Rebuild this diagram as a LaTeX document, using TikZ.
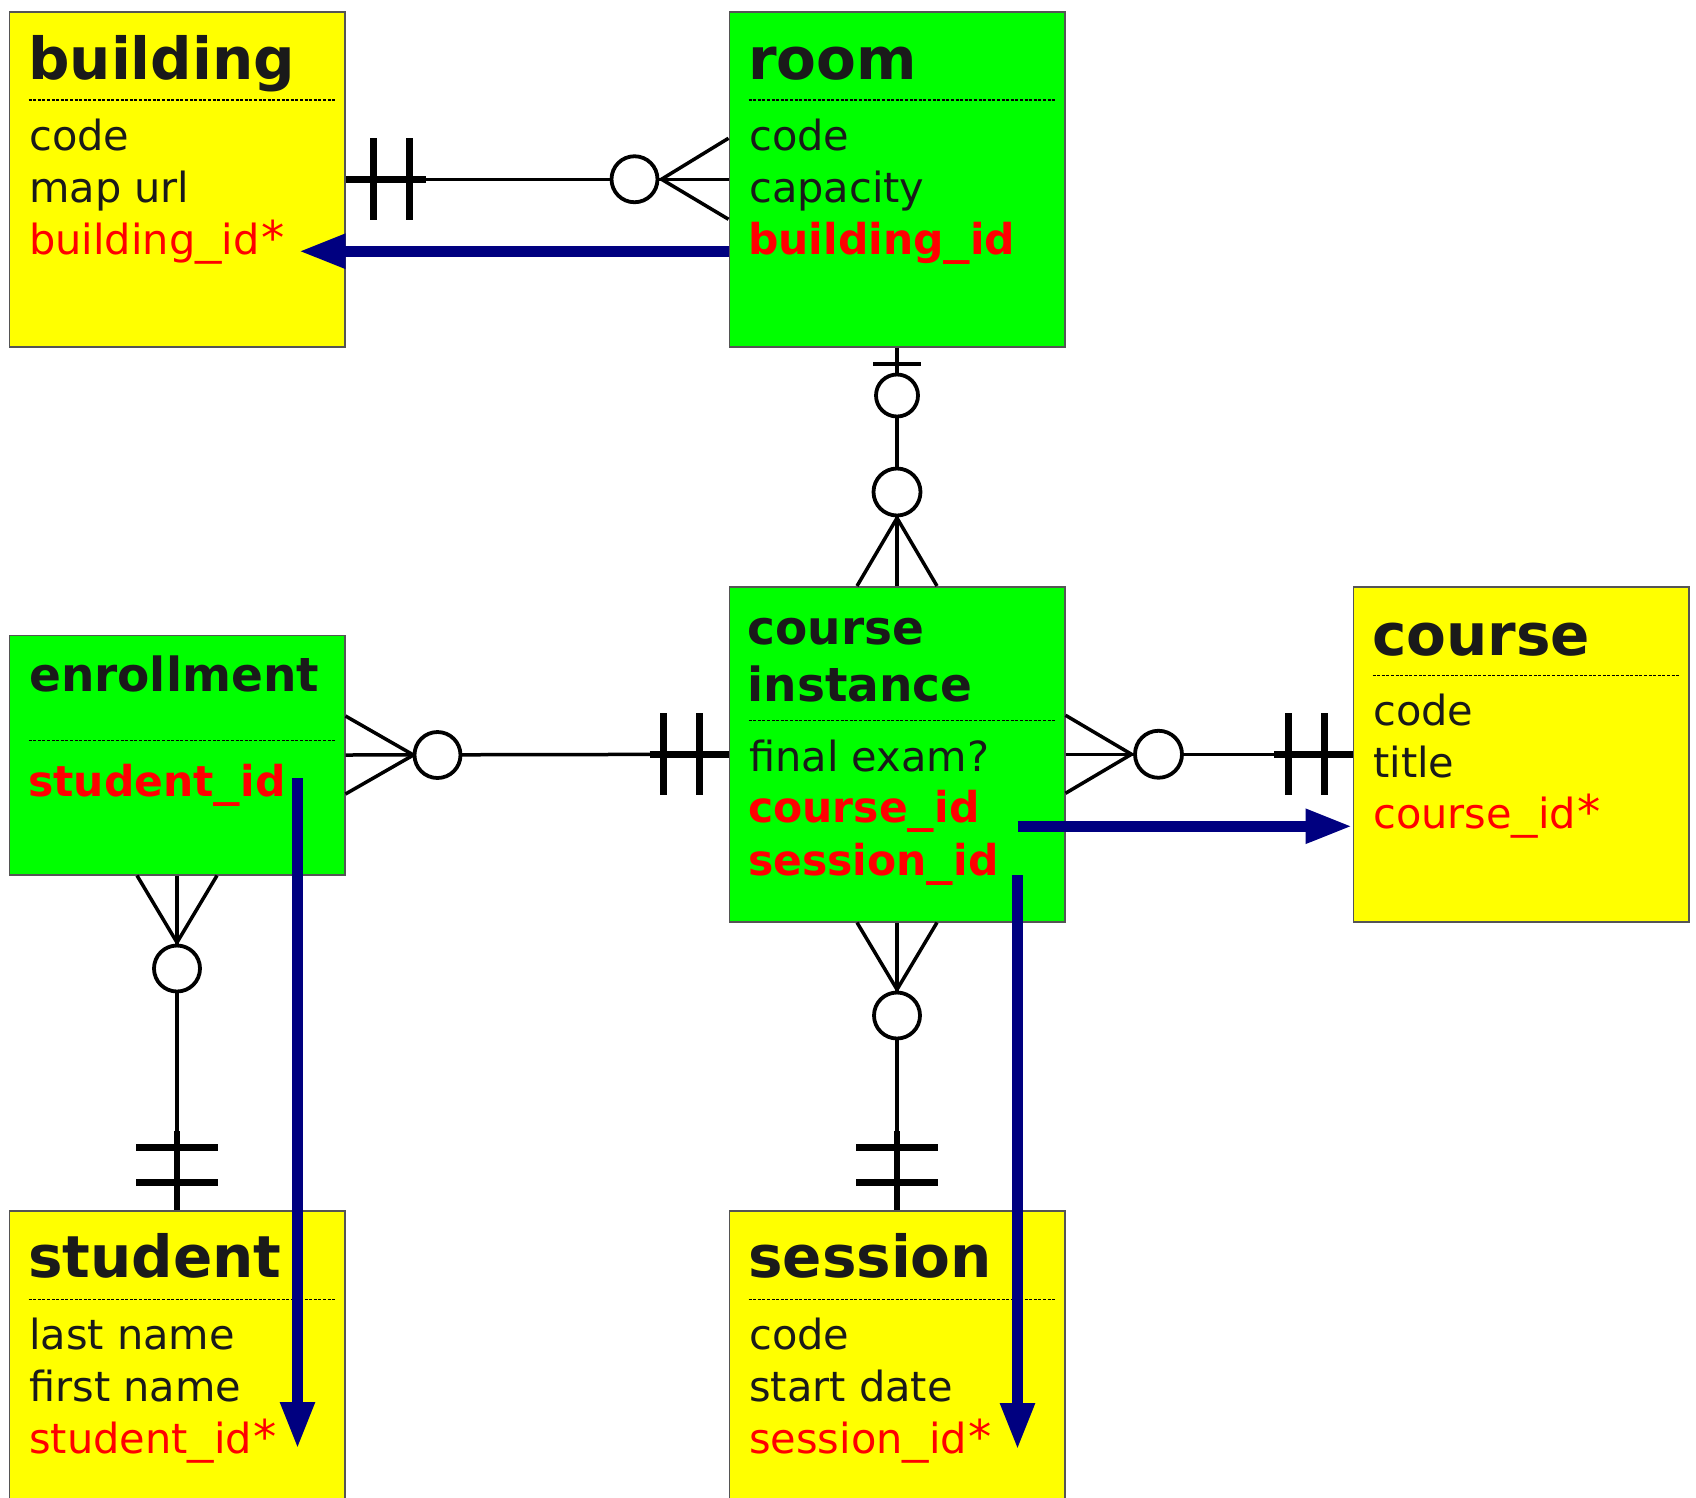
\documentclass[tikz,border=0pt]{standalone}
\usepackage{fontspec}
\usepackage{graphicx}
\setmainfont{DejaVu Sans}
\usetikzlibrary{arrows.meta,calc}
\definecolor{ybox}{HTML}{FFFF00}
\definecolor{gbox}{HTML}{00FF00}
\definecolor{navyc}{HTML}{000080}
\definecolor{redc}{HTML}{FF0000}
\definecolor{inkc}{HTML}{1A1A1A}
\definecolor{edgec}{HTML}{555555}
\newcommand{\usr}{\scalebox{1.27}[1]{\_}}
\newcommand{\usb}{\scalebox{1.25}[1]{\_}}
\newcommand{\astr}{\hspace{0.04em}\scalebox{1.12}{*}}
\tikzset{
  ent/.style={rectangle, draw=edgec, line width=1.5pt, inner sep=0pt,
    minimum width=335.5pt, minimum height=335pt, anchor=north west},
  ttl/.style={font=\fontsize{58}{60}\selectfont\bfseries, text=inkc, anchor=base west, inner sep=0pt},
  ttlsm/.style={font=\fontsize{47}{50}\selectfont\bfseries, text=inkc, anchor=base west, inner sep=0pt},
  attr/.style={font=\fontsize{41.5}{44}\selectfont, text=inkc, anchor=base west, inner sep=0pt},
  fkattr/.style={font=\fontsize{41.5}{44}\selectfont, text=redc, anchor=base west, inner sep=0pt},
  pkattr/.style={font=\fontsize{42.5}{44}\selectfont\bfseries, text=redc, anchor=base west, inner sep=0pt},
  sepline/.style={draw=black, line width=1.3pt, dash pattern=on 3pt off 1.6pt},
  rel/.style={draw=black, line width=3.5pt},
  relthick/.style={draw=black, line width=6.5pt},
  barmark/.style={draw=black, line width=7pt},
  thinbar/.style={draw=black, line width=4pt},
  circmark/.style={draw=black, fill=white, line width=3.8pt},
  fk/.style={draw=navyc, line width=11pt, -{Triangle[length=47pt,width=32pt]}},
}
\begin{document}
\begin{tikzpicture}[x=1pt,y=-1pt]
\useasboundingbox (0,0) rectangle (1696,1497);
\clip (0,0) rectangle (1696,1497);
\fill[white] (0,0) rectangle (1696,1497);

% ---------- entities ----------
\node[ent, fill=ybox] (building) at (8.5,11) {};
\node[ent, fill=gbox] (room) at (728.5,11) {};
\node[ent, fill=gbox] (ci) at (728.5,586) {};
\node[ent, fill=ybox] (course) at (1352.5,586) {};
\node[ent, fill=gbox, minimum height=239.5pt] (enr) at (8.5,634.5) {};
\node[ent, fill=ybox] (student) at (8.5,1210) {};
\node[ent, fill=ybox] (session) at (728.5,1210) {};

% building
\node[ttl] (building-t) at ($(building.north west)+(19.5,68)$) {building};
\draw[sepline] ($(building.north west)+(20,89)$) -- ($(building.north east)+(-10.5,89)$);
\node[attr] (building-a1) at ($(building.north west)+(20.5,139)$) {code};
\node[attr] (building-a2) at ($(building.north west)+(20.5,191)$) {map url};
\node[fkattr] (building-a3) at ($(building.north west)+(20.5,243)$) {building\usr id\astr};

% room
\node[ttl] (room-t) at ($(room.north west)+(19.5,68)$) {room};
\draw[sepline] ($(room.north west)+(20,89)$) -- ($(room.north east)+(-10.5,89)$);
\node[attr] (room-a1) at ($(room.north west)+(20.5,139)$) {code};
\node[attr] (room-a2) at ($(room.north west)+(20.5,191)$) {capacity};
\node[pkattr] (room-a3) at ($(room.north west)+(19.5,243)$) {building\usb id};

% course instance
\node[ttlsm] (ci-t1) at ($(ci.north west)+(19,58)$) {course};
\node[ttlsm] (ci-t2) at ($(ci.north west)+(19,115.7)$) {instance};
\draw[sepline] ($(ci.north west)+(20,134.7)$) -- ($(ci.north east)+(-10.5,134.7)$);
\node[attr] (ci-a1) at ($(ci.north west)+(20.5,185)$) {final exam?};
\node[pkattr] (ci-a2) at ($(ci.north west)+(19.5,236.7)$) {course\usb id};
\node[pkattr] (ci-a3) at ($(ci.north west)+(19.5,289)$) {session\usb id};

% course
\node[ttl] (course-t) at ($(course.north west)+(19.5,69)$) {course};
\draw[sepline] ($(course.north west)+(20,89.5)$) -- ($(course.north east)+(-10.5,89.5)$);
\node[attr] (course-a1) at ($(course.north west)+(20.5,139.5)$) {code};
\node[attr] (course-a2) at ($(course.north west)+(20.5,191)$) {title};
\node[fkattr] (course-a3) at ($(course.north west)+(20.5,242.5)$) {course\usr id\astr};

% enrollment
\node[ttlsm] (enr-t) at ($(enr.north west)+(20.5,57.2)$) {enrollment};
\draw[sepline] ($(enr.north west)+(20,106.2)$) -- ($(enr.north east)+(-10.5,106.2)$);
\node[pkattr] (enr-a1) at ($(enr.north west)+(19.5,162.2)$) {student\usb id};

% student
\node[ttl] (student-t) at ($(student.north west)+(19.5,67.6)$) {student};
\draw[sepline] ($(student.north west)+(20,89.6)$) -- ($(student.north east)+(-10.5,89.6)$);
\node[attr] (student-a1) at ($(student.north west)+(20.5,139.5)$) {last name};
\node[attr] (student-a2) at ($(student.north west)+(20.5,191.5)$) {first name};
\node[fkattr] (student-a3) at ($(student.north west)+(20.5,243)$) {student\usr id\astr};

% session
\node[ttl] (session-t) at ($(session.north west)+(19.5,67.6)$) {session};
\draw[sepline] ($(session.north west)+(20,89.6)$) -- ($(session.north east)+(-10.5,89.6)$);
\node[attr] (session-a1) at ($(session.north west)+(20.5,139.5)$) {code};
\node[attr] (session-a2) at ($(session.north west)+(20.5,191.5)$) {start date};
\node[fkattr] (session-a3) at ($(session.north west)+(20.5,243)$) {session\usr id\astr};

% ---------- building -- room ----------
\draw[rel] (building.east) -- (room.west);
\draw[relthick] (building.east) -- ($(building.east)+(80,0)$);
\draw[barmark] ($(building.east)+(28,-41)$) -- ($(building.east)+(28,41)$);
\draw[barmark] ($(building.east)+(64,-41)$) -- ($(building.east)+(64,41)$);
\draw[rel] ($(room.west)+(0,-41)$) -- ($(room.west)+(-67,0)$) -- ($(room.west)+(0,40)$);
\draw[circmark] ($(room.west)+(-94,0)$) circle[radius=23];

% ---------- room -- course instance ----------
\draw[rel] (room.south) -- (ci.north);
\draw[thinbar] ($(room.south)+(-24,16)$) -- ($(room.south)+(24,16)$);
\draw[circmark] ($(room.south)+(0,48)$) circle[radius=21];
\draw[rel] ($(ci.north)+(-40,0)$) -- ($(ci.north)+(0,-68)$) -- ($(ci.north)+(40,0)$);
\draw[circmark] ($(ci.north)+(0,-94)$) circle[radius=23.5];

% ---------- enrollment -- course instance ----------
\draw[rel] (enr.east) -- (ci.west);
\draw[relthick] ($(ci.west)+(-79,0)$) -- (ci.west);
\draw[barmark] ($(ci.west)+(-65,-41)$) -- ($(ci.west)+(-65,41)$);
\draw[barmark] ($(ci.west)+(-29.5,-41)$) -- ($(ci.west)+(-29.5,41)$);
\draw[rel] ($(enr.east)+(0,-39)$) -- ($(enr.east)+(68,0)$) -- ($(enr.east)+(0,39)$);
\draw[circmark] ($(enr.east)+(92,0)$) circle[radius=23];

% ---------- course instance -- course ----------
\draw[rel] (ci.east) -- (course.west);
\draw[relthick] ($(course.west)+(-78.5,0)$) -- (course.west);
\draw[barmark] ($(course.west)+(-64,-41)$) -- ($(course.west)+(-64,41)$);
\draw[barmark] ($(course.west)+(-28,-41)$) -- ($(course.west)+(-28,41)$);
\draw[rel] ($(ci.east)+(0,-39)$) -- ($(ci.east)+(66,0)$) -- ($(ci.east)+(0,39)$);
\draw[circmark] ($(ci.east)+(93,0)$) circle[radius=23.5];

% ---------- enrollment -- student ----------
\draw[rel] (enr.south) -- (student.north);
\draw[relthick] ($(student.north)+(0,-79)$) -- (student.north);
\draw[barmark] ($(student.north)+(-41,-63)$) -- ($(student.north)+(41,-63)$);
\draw[barmark] ($(student.north)+(-41,-28)$) -- ($(student.north)+(41,-28)$);
\draw[rel] ($(enr.south)+(-40,0)$) -- ($(enr.south)+(0,67)$) -- ($(enr.south)+(40,0)$);
\draw[circmark] ($(enr.south)+(0,93)$) circle[radius=23];

% ---------- course instance -- session ----------
\draw[rel] (ci.south) -- (session.north);
\draw[relthick] ($(session.north)+(0,-79)$) -- (session.north);
\draw[barmark] ($(session.north)+(-41,-63)$) -- ($(session.north)+(41,-63)$);
\draw[barmark] ($(session.north)+(-41,-28)$) -- ($(session.north)+(41,-28)$);
\draw[rel] ($(ci.south)+(-40,0)$) -- ($(ci.south)+(0,67)$) -- ($(ci.south)+(40,0)$);
\draw[circmark] ($(ci.south)+(0,93)$) circle[radius=23];

% ---------- foreign key arrows ----------
\draw[fk] ($(room.west)+(0,72)$) -- ($(building.east)+(-47,72)$);
\draw[fk] ($(ci.east)+(-48,72)$) -- ($(course.west)+(0,72)$);
\draw[fk] ($(ci.south east)+(-48,-47.5)$) -- ($(session.north east)+(-48,240)$);
\draw[fk] ($(enr.north east)+(-48,143.5)$) -- ($(student.north east)+(-48,239)$);
\end{tikzpicture}
\end{document}
